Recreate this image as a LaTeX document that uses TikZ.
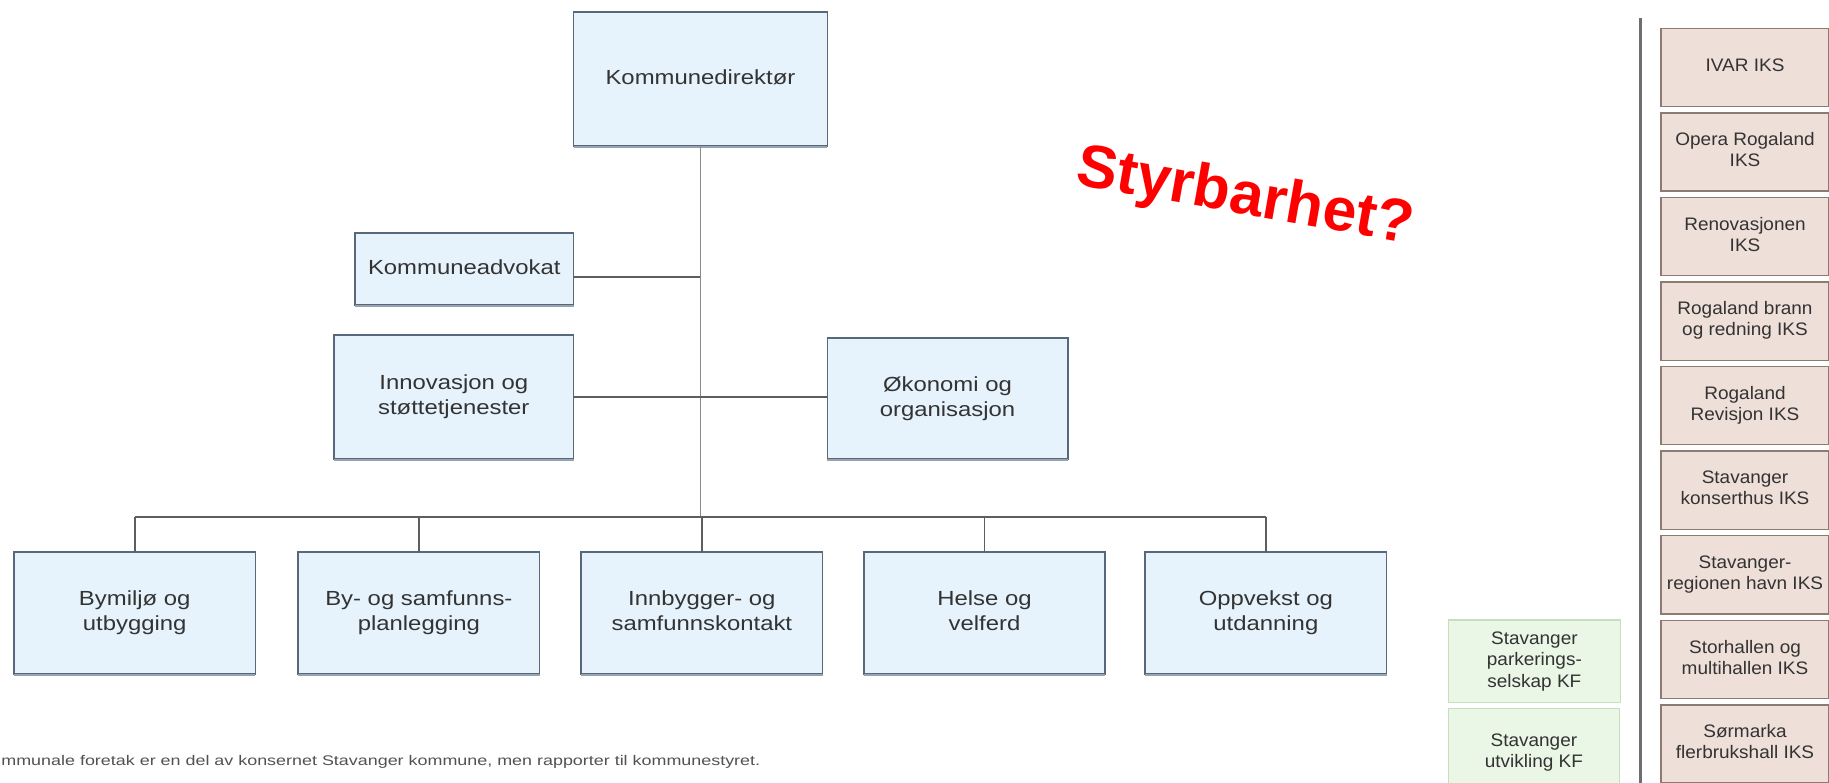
\documentclass[tikz,border=0pt]{standalone}
\usepackage{fontspec}
\setmainfont{Liberation Sans}
\usepackage{graphicx}
\definecolor{bluefill}{HTML}{E6F3FC}
\definecolor{bluebd}{HTML}{56687A}
\definecolor{blueshadow}{HTML}{97A4B0}
\definecolor{txtgray}{HTML}{333333}
\definecolor{ikfill}{HTML}{EEDFD8}
\definecolor{ikbd}{HTML}{8C7B72}
\definecolor{grfill}{HTML}{EAF6E6}
\definecolor{grbd}{HTML}{C6DFBD}
\definecolor{linegray}{HTML}{5E5E5E}
\definecolor{vgray}{HTML}{8A8A8A}
\newcommand{\mtxt}[1]{\scalebox{1.17}[1]{\begin{tabular}{@{}c@{}}#1\end{tabular}}}
\newcommand{\itxt}[1]{\scalebox{1.05}[1]{\begin{tabular}{@{}c@{}}#1\end{tabular}}}
\tikzset{
  bluebox/.style={draw=bluebd, fill=bluefill, line width=1.5pt, inner sep=0pt, outer sep=0pt,
    text=txtgray, font=\fontsize{17.5}{21.5}\selectfont},
  botbox/.style={bluebox, minimum width=207pt, minimum height=104pt},
  iksbox/.style={draw=ikbd, fill=ikfill, line width=1.2pt, inner sep=0pt, outer sep=0pt,
    minimum width=144pt, minimum height=67pt, text=txtgray, font=\fontsize{15.5}{18}\selectfont},
  grbox/.style={draw=grbd, fill=grfill, line width=1pt, inner sep=0pt, outer sep=0pt,
    minimum width=147pt, text=txtgray, font=\fontsize{15.5}{18.5}\selectfont},
  conn/.style={draw=linegray, line width=1.5pt},
  mainv/.style={draw=vgray, line width=1.3pt},
}
\begin{document}
\begin{tikzpicture}[x=1pt, y=-1pt]
\useasboundingbox (0,0) rectangle (1568,671);
\fill[white] (0,0) rectangle (1568,671);

% main org chart
\node[bluebox, minimum width=217.6pt, minimum height=114.3pt] (kd) at (600.5,67.75) {\mtxt{Kommunedirektør}};
\node[bluebox, minimum width=187.5pt, minimum height=61.5pt] (ka) at (398,230.75) {\mtxt{Kommuneadvokat}};
\node[bluebox, minimum width=205.5pt, minimum height=106.3pt] (inn) at (389,340.35) {\mtxt{Innovasjon og\\støttetjenester}};
\node[bluebox, minimum width=206pt, minimum height=103.5pt] (oko) at (812.3,341.75) {\mtxt{Økonomi og\\organisasjon}};

\node[botbox] (b1) at (115.5,525.5) {\mtxt{Bymiljø og\\utbygging}};
\node[botbox] (b2) at (359.1,525.5) {\mtxt{By- og samfunns-\\planlegging}};
\node[botbox] (b3) at (601.7,525.5) {\mtxt{Innbygger- og\\samfunnskontakt}};
\node[botbox] (b4) at (844,525.5) {\mtxt{Helse og\\velferd}};
\node[botbox] (b5) at (1085.2,525.5) {\mtxt{Oppvekst og\\utdanning}};

\foreach \n in {kd,ka,inn,oko,b1,b2,b3,b4,b5}{
  \draw[blueshadow, line width=1.6pt] ([yshift=-1.2pt]\n.south west) -- ([yshift=-1.2pt]\n.south east);
}

\coordinate (bus) at (600,442.9);
\coordinate (kaR) at ([yshift=-6.5pt]ka.east);
\draw[mainv] (kd.south) -- (kd.south |- bus);
\draw[conn] (kaR) -- (kaR -| kd.south);
\draw[conn] (inn.east) -- (inn.east -| oko.west);
\draw[conn] (b1.north |- bus) -- (b5.north |- bus);
\foreach \n in {b1,b2,b3,b4,b5}{
  \draw[conn] (\n.north |- bus) -- (\n.north);
}

% footnote
\node[anchor=base west, inner sep=0pt, text=txtgray!85, font=\fontsize{12}{14}\selectfont] (fn) at (1,656)
  {\scalebox{1.28}[1]{mmunale foretak er en del av konsernet Stavanger kommune, men rapporter til kommunestyret.}};

% red question
\node[anchor=base west, inner sep=0pt, rotate=-10, text={rgb,255:red,255;green,0;blue,0},
  font=\fontsize{52}{60}\selectfont\bfseries] (styr) at (921,158) {Styrbarhet?};

% right side
\coordinate (vtop) at (1406.5,15.7);
\coordinate (vbot) at (1406.5,671);
\draw[draw=linegray!90, line width=2pt] (vtop) -- (vbot);

\node[iksbox] (i1) at (1496,57.8) {\itxt{IVAR IKS}};
\node[iksbox] (i2) at (1496,130.3) {\itxt{Opera Rogaland\\IKS}};
\node[iksbox] (i3) at (1496,202.8) {\itxt{Renovasjonen\\IKS}};
\node[iksbox] (i4) at (1496,275.3) {\itxt{Rogaland brann\\og redning IKS}};
\node[iksbox] (i5) at (1496,347.8) {\itxt{Rogaland\\Revisjon IKS}};
\node[iksbox] (i6) at (1496,420.3) {\itxt{Stavanger\\konserthus IKS}};
\node[iksbox] (i7) at (1496,492.8) {\itxt{Stavanger-\\regionen havn IKS}};
\node[iksbox] (i8) at (1496,565.3) {\itxt{Storhallen og\\multihallen IKS}};
\node[iksbox] (i9) at (1496,637.8) {\itxt{Sørmarka\\flerbrukshall IKS}};

\node[grbox, minimum height=71pt] (g1) at (1315.4,567) {\itxt{Stavanger\\parkerings-\\selskap KF}};
\node[grbox, minimum height=76pt] (g2) at (1315,645.2) {\itxt{Stavanger\\utvikling KF}};
\end{tikzpicture}
\end{document}
